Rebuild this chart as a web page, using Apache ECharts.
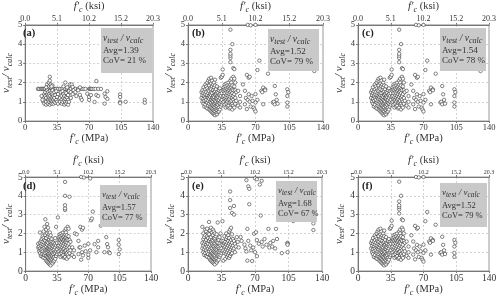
<!DOCTYPE html>
<html>
<head>
<meta charset="utf-8">
<script src="https://cdn.jsdelivr.net/npm/echarts@6/dist/echarts.min.js"></script>
<style>
  html, body { margin: 0; padding: 0; background: #fff; }
  #chart { width: 500px; height: 298px; }
</style>
</head>
<body>
<div id="chart"></div>
<script>
// tick labels
const mpaTicks = [0, 35, 70, 105, 140]
const ksiTicks = ['0.0', '5.1', '10.2', '15.2', '20.3']
const panelLabels = ['(a)', '(b)', '(c)', '(d)', '(e)', '(f)']
const avgValues = ['1.39', '1.52', '1.54', '1.57', '1.68', '1.52']
const covValues = ['21', '79', '78', '77', '67', '79']

// (a) f'c [MPa], v_test/v_calc
const ptsA = [
  [14,1.67],[15,1.67],[17,1.67],[18,1.67],[19,1.67],[20,1.67],[21,1.67],[22,1.67],[24,1.67],[25,1.67],
  [26,1.67],[28,1.67],[29,1.67],[30,1.67],[31,1.67],[33,1.67],[34,1.67],[36,1.67],[38,1.67],[40,1.67],
  [42,1.67],[44,1.67],[46,1.67],[48,1.67],[50,1.67],[53,1.67],[55,1.67],[58,1.67],[60,1.67],[62,1.67],
  [64,1.67],[66,1.67],[70,1.67],[71,1.67],[72,1.67],[73,1.67],[75,1.67],[77,1.67],[80,1.67],[83,1.67],
  [20,1.0],[20,1.2],[21,1.4],[21,0.9],[22,1.1],[22,1.3],[22,1.5],[23,0.85],[23,1.0],[23,1.2],
  [24,1.4],[24,1.6],[24,1.9],[25,0.9],[25,1.1],[25,1.3],[25,1.5],[26,1.0],[26,1.2],[26,1.4],
  [26,1.8],[26,2.0],[27,0.85],[27,1.1],[27,1.3],[27,1.55],[27,2.1],[27,2.3],[28,0.95],[28,1.15],
  [28,1.45],[28,1.75],[28,1.9],[29,0.9],[29,1.05],[29,1.25],[29,1.5],[30,1.0],[30,1.2],[30,1.4],
  [30,1.6],[30,1.85],[31,0.9],[31,1.1],[31,1.3],[32,1.0],[32,1.2],[32,1.5],[33,0.95],[33,1.35],
  [34,1.1],[34,1.55],[35,1.0],[35,1.25],[36,1.4],[36,0.9],[18,1.3],[19,1.1],[23,1.75],[29,1.8],
  [38,1.0],[38,1.2],[39,1.5],[40,0.9],[40,1.1],[40,1.3],[41,1.0],[41,1.55],[42,1.2],[42,1.4],
  [42,1.8],[43,0.85],[43,1.05],[43,1.3],[44,1.0],[44,1.15],[44,1.5],[44,2.0],[45,0.9],[45,1.25],
  [45,1.45],[46,1.0],[46,1.2],[46,1.75],[47,0.85],[47,1.1],[47,1.35],[48,1.0],[48,1.55],[49,1.9],
  [50,1.2],[50,1.5],[51,1.9],[52,1.4],[52,1.77],[53,1.6],[55,1.5],[56,1.3],[58,1.6],[60,1.75],
  [60,1.36],[61,1.2],[62,1.1],[68,1.42],[70,1.25],[70,1.1],[72,1.35],[76,0.99],[78,2.08],[78,1.35],
  [80,1.3],[87,1.42],[88,1.25],[87,0.9],[90,1.55],[90,1.15],[104,1.39],[104,1.25],[104,1.0],[104,0.93],
  [110,1.0],[131,1.1],[131,0.95]
]

// (b) also shown in (c) and (f)
const ptsB = [
  [14,1.5],[14,1.2],[15,1.0],[15,1.35],[15,1.6],[16,0.9],[16,1.15],[16,1.45],[16,1.75],[17,0.75],
  [17,1.05],[17,1.3],[17,1.55],[18,0.85],[18,1.2],[18,1.4],[18,1.65],[18,1.9],[19,0.7],[19,1.0],
  [19,1.1],[19,1.5],[19,1.8],[20,0.65],[20,0.95],[20,1.25],[20,1.35],[20,1.7],[20,2.0],[21,0.8],
  [21,1.05],[21,1.2],[21,1.45],[21,1.6],[21,2.1],[22,0.6],[22,0.9],[22,1.15],[22,1.3],[22,1.55],
  [22,1.85],[22,2.2],[23,0.55],[23,0.75],[23,1.0],[23,1.25],[23,1.4],[23,1.7],[23,2.05],[24,0.5],
  [24,0.7],[24,0.95],[24,1.1],[24,1.35],[24,1.5],[24,1.65],[24,1.95],[24,2.25],[25,0.45],[25,0.65],
  [25,0.85],[25,1.05],[25,1.2],[25,1.45],[25,1.8],[25,2.1],[26,0.4],[26,0.6],[26,0.8],[26,1.0],
  [26,1.15],[26,1.3],[26,1.6],[26,1.9],[27,0.35],[27,0.55],[27,0.75],[27,0.9],[27,1.1],[27,1.25],
  [27,1.5],[27,1.75],[27,2.0],[28,0.3],[28,0.5],[28,0.7],[28,0.95],[28,1.05],[28,1.35],[28,1.55],
  [28,1.85],[28,2.15],[29,0.4],[29,0.6],[29,0.8],[29,1.0],[29,1.2],[29,1.4],[29,1.65],[30,0.35],
  [30,0.55],[30,0.75],[30,0.9],[30,1.15],[30,1.3],[30,1.5],[30,1.8],[31,0.45],[31,0.65],[31,0.85],
  [31,1.05],[31,1.25],[31,1.45],[32,0.5],[32,0.7],[32,0.95],[32,1.1],[32,1.35],[32,1.6],[33,0.6],
  [33,0.9],[33,1.2],[33,1.4],[33,1.7],[34,0.75],[34,1.0],[34,1.3],[34,1.55],[34,2.25],[35,0.85],
  [35,1.1],[35,1.45],[35,2.3],[36,0.95],[36,1.25],[36,1.6],[36,2.4],[36,2.68],
  [37,1.0],[37,1.3],[37,1.55],[37,1.75],[38,0.85],[38,1.15],[38,1.45],[38,1.65],[38,1.9],[39,0.7],
  [39,1.05],[39,1.25],[39,1.6],[39,1.8],[40,0.9],[40,1.1],[40,1.35],[40,1.5],[40,1.7],[40,1.95],
  [41,0.75],[41,1.0],[41,1.2],[41,1.45],[41,1.65],[41,1.85],[42,0.8],[42,1.1],[42,1.3],[42,1.55],
  [42,1.75],[42,2.0],[43,0.65],[43,0.95],[43,1.15],[43,1.4],[43,1.6],[43,1.8],[44,0.7],[44,1.0],
  [44,1.25],[44,1.5],[44,1.7],[44,1.9],[44,2.1],[44,3.06],[44,3.28],[44,3.4],[44,3.5],[44,3.7],
  [44,4.75],[45,0.85],[45,1.05],[45,1.35],[45,1.55],[45,1.75],[45,2.0],[45,2.2],[46,0.6],[46,0.9],
  [46,1.2],[46,1.45],[46,1.65],[46,1.85],[46,4.0],[47,0.8],[47,1.1],[47,1.3],[47,1.6],[47,2.3],
  [47,2.75],[48,0.7],[48,1.0],[48,1.4],[48,1.8],[48,2.2],[48,2.7],[49,0.9],[49,1.2],[49,1.6],
  [49,2.0],[50,1.05],[50,1.5],[52,1.57],[52,0.8],[54,1.3],[54,1.0],[54,0.7],
  [57,1.9],[59,0.87],[59,1.57],[60,1.2],[61,2.4],[61,0.62],[62,1.1],[62,5.0],[63,1.39],[63,2.25],
  [64,2.3],[64,1.0],[65,4.98],[65,0.75],[66,1.3],[67,1.05],[68,0.7],[69,0.6],[70,0.96],[70,5.0],
  [70,0.5],[70,1.4],[72,2.65],[72,1.1],[74,3.14],[76,1.57],[77,1.5],[78,1.74],[78,0.87],[80,1.65],
  [80,1.6],[83,2.46],[88,0.96],[89,1.0],[90,0.87],[90,1.82],[91,1.39],[92,1.1],[93,0.9],[103,1.65],
  [103,1.3],[103,0.96],[103,0.75],[104,1.5],[131,2.6],[131,3.0]
]
const ptsC = ptsB
const ptsF = ptsB

// (d)
const ptsD = [
  [14,1.45],[14,1.25],[15,1.05],[15,1.3],[16,0.95],[16,1.2],[16,1.5],[16,2.05],[17,0.8],[17,1.1],
  [17,1.35],[17,1.6],[18,0.9],[18,1.15],[18,1.45],[18,1.7],[19,0.75],[19,1.05],[19,1.3],[19,1.55],
  [19,1.85],[20,0.7],[20,0.9],[20,1.2],[20,1.4],[20,1.75],[20,2.1],[21,0.85],[21,1.0],[21,1.25],
  [21,1.5],[21,1.65],[21,2.35],[22,0.65],[22,0.95],[22,1.1],[22,1.35],[22,1.6],[22,1.9],[22,2.75],
  [23,0.55],[23,0.8],[23,1.05],[23,1.3],[23,1.45],[23,1.75],[23,2.2],[24,0.5],[24,0.75],[24,1.0],
  [24,1.15],[24,1.4],[24,1.55],[24,2.0],[24,2.5],[25,0.45],[25,0.7],[25,0.9],[25,1.1],[25,1.25],
  [25,1.5],[25,1.85],[25,2.3],[26,0.4],[26,0.65],[26,0.85],[26,1.05],[26,1.2],[26,1.35],[26,1.65],
  [26,1.95],[27,0.35],[27,0.6],[27,0.8],[27,0.95],[27,1.15],[27,1.3],[27,1.55],[27,1.8],[27,2.05],
  [28,0.3],[28,0.55],[28,0.75],[28,1.0],[28,1.1],[28,1.4],[28,1.6],[28,1.9],[29,0.45],[29,0.65],
  [29,0.85],[29,1.05],[29,1.25],[29,1.45],[29,1.7],[30,0.4],[30,0.6],[30,0.8],[30,0.95],[30,1.2],
  [30,1.35],[30,1.55],[31,0.5],[31,0.7],[31,0.9],[31,1.1],[31,1.3],[31,1.5],[32,0.55],[32,0.75],
  [32,1.0],[32,1.15],[32,1.4],[33,0.65],[33,0.95],[33,1.25],[33,1.45],[33,1.75],[34,0.8],[34,1.05],
  [34,1.35],[34,2.35],[35,0.9],[35,1.15],[35,1.5],[36,1.0],[36,1.3],[36,2.85],
  [37,1.05],[37,1.35],[37,1.6],[37,1.8],[38,0.9],[38,1.2],[38,1.5],[38,1.7],[38,1.95],[39,0.75],
  [39,1.1],[39,1.3],[39,1.65],[39,1.85],[40,0.95],[40,1.15],[40,1.4],[40,1.55],[40,1.75],[40,2.0],
  [41,0.8],[41,1.05],[41,1.25],[41,1.5],[41,1.7],[41,1.9],[42,0.85],[42,1.15],[42,1.35],[42,1.6],
  [42,1.8],[42,2.05],[43,0.7],[43,1.0],[43,1.2],[43,1.45],[43,1.65],[43,1.85],[44,0.75],[44,1.05],
  [44,1.3],[44,1.55],[44,1.75],[44,1.95],[44,2.15],[44,3.25],[44,3.33],[44,3.5],[44,4.0],[44,4.74],
  [45,0.9],[45,1.1],[45,1.4],[45,1.6],[45,1.8],[45,2.05],[45,2.25],[46,0.65],[46,0.95],[46,1.25],
  [46,1.5],[46,1.7],[46,1.9],[47,0.85],[47,1.15],[47,1.35],[47,1.65],[47,2.35],[48,0.75],[48,1.05],
  [48,1.45],[48,1.85],[48,2.25],[49,0.95],[49,1.25],[49,3.95],[49,1.65],[50,1.1],[50,1.55],[52,1.26],
  [52,0.85],[54,1.1],[54,0.75],[55,2.0],
  [57,1.95],[59,0.9],[59,1.6],[60,1.25],[61,2.35],[61,1.26],[62,5.0],[62,0.6],[63,1.0],[63,2.2],
  [64,0.83],[64,2.3],[65,4.97],[66,1.35],[67,1.05],[70,0.7],[70,0.87],[70,1.45],[72,1.1],[72,4.92],
  [73,2.7],[74,2.79],[75,3.16],[77,1.43],[79,1.0],[81,1.26],[81,1.6],[84,2.41],[88,1.0],[90,1.8],
  [91,1.43],[92,1.26],[93,1.0],[94,0.95],[104,1.65],[104,1.4],[104,0.9],[105,1.15],[132,2.53]
]

// (e)
const ptsE = [
  [15,2.35],[15,1.5],[15,1.2],[16,1.0],[16,1.35],[16,1.7],[16,2.0],[17,0.85],[17,1.15],[17,1.45],
  [17,1.8],[18,0.95],[18,1.25],[18,1.55],[18,1.9],[18,2.2],[19,0.8],[19,1.1],[19,1.4],[19,1.65],
  [19,2.1],[20,0.75],[20,1.0],[20,1.3],[20,1.5],[20,1.85],[20,2.25],[21,0.9],[21,1.2],[21,1.45],
  [21,1.75],[21,2.0],[22,0.7],[22,1.05],[22,1.3],[22,1.6],[22,1.95],[22,2.61],[23,0.6],[23,0.85],
  [23,1.15],[23,1.4],[23,1.7],[23,2.15],[24,0.55],[24,0.8],[24,1.05],[24,1.25],[24,1.55],[24,1.8],
  [24,2.3],[25,0.5],[25,0.75],[25,0.95],[25,1.2],[25,1.45],[25,1.65],[25,2.05],[26,0.45],[26,0.7],
  [26,0.9],[26,1.1],[26,1.35],[26,1.6],[26,1.9],[26,2.2],[27,0.4],[27,0.65],[27,0.85],[27,1.05],
  [27,1.3],[27,1.5],[27,1.75],[27,2.1],[28,0.35],[28,0.6],[28,0.8],[28,1.0],[28,1.2],[28,1.45],
  [28,1.7],[28,2.0],[29,0.5],[29,0.7],[29,0.95],[29,1.15],[29,1.35],[29,1.6],[29,1.85],[30,0.45],
  [30,0.65],[30,0.9],[30,1.1],[30,1.3],[30,1.55],[30,1.95],[31,0.55],[31,0.8],[31,1.0],[31,1.25],
  [31,1.5],[31,2.58],[32,0.6],[32,0.85],[32,1.05],[32,1.3],[32,1.65],[33,0.75],[33,1.0],[33,1.2],
  [33,1.45],[33,1.8],[34,0.85],[34,1.1],[34,1.35],[34,2.0],[35,0.95],[35,1.2],[35,1.6],[36,1.05],
  [36,1.4],[36,2.65],[37,0.55],[37,1.1],[37,1.35],[37,1.6],[38,0.95],[38,1.25],[38,1.5],[38,1.85],
  [39,0.65],[39,1.05],[39,1.3],[39,1.55],[40,0.9],[40,1.15],[40,1.4],[40,1.7],[40,2.0],[41,0.75],
  [41,1.0],[41,1.25],[41,1.5],[41,1.8],[42,0.85],[42,1.1],[42,1.35],[42,1.6],[42,1.9],[43,0.7],
  [43,0.95],[43,1.2],[43,1.45],[43,1.75],[43,2.1],[44,0.8],[44,1.05],[44,1.3],[44,1.55],[44,2.2],
  [44,3.35],[44,3.77],[44,4.23],[45,0.9],[45,1.15],[45,1.4],[45,1.65],[45,2.3],[46,0.95],[46,1.25],
  [46,1.5],[46,1.95],[46,3.09],[47,1.1],[47,1.35],[47,1.7],[48,3.0],[48,3.46],[48,1.2],[48,1.6],
  [49,1.0],[49,1.45],[50,1.3],[51,1.8],[52,1.55],[53,1.25],[55,1.81],[56,1.6],
  [59,1.4],[60,1.2],[61,4.83],[61,1.04],[62,2.24],[62,0.55],[63,1.6],[63,4.5],[64,4.37],[64,3.55],
  [65,1.35],[66,1.1],[67,0.53],[68,1.25],[69,1.98],[70,4.93],[70,1.0],[71,2.06],[72,4.88],[72,0.79],
  [72,1.64],[74,1.45],[75,4.6],[76,2.95],[77,4.8],[77,1.55],[78,1.3],[80,1.7],[82,1.4],[84,2.24],
  [85,1.25],[86,1.5],[88,1.3],[89,1.6],[91,1.2],[92,2.24],[93,1.7],[98,0.95],[104,1.5],[104,1.45],
  [104,1.4],[104,1.0],[110,2.66],[131,2.53],[131,2.18]
]

const font = 'Liberation Serif'
const panels = [
  { data: ptsA, left: 19, top: 24, width: 134, height: 97, box: [101, 28, 51, 45], row: 0 },
  { data: ptsB, left: 188, top: 24, width: 135, height: 97, box: [268, 29, 51, 42], row: 0 },
  { data: ptsC, left: 358, top: 24, width: 131, height: 97, box: [440, 28, 46, 43], row: 0 },
  { data: ptsD, left: 19, top: 177, width: 132, height: 98, box: [100, 185, 47, 42], row: 1 },
  { data: ptsE, left: 188, top: 177, width: 134, height: 98, box: [276, 181, 41, 41], row: 1 },
  { data: ptsF, left: 358, top: 177, width: 131, height: 98, box: [440, 183, 47, 44], row: 1 },
]

const nameRich = {
  f: { fontFamily: font, fontStyle: 'italic', fontSize: 11, lineHeight: 15 },
  s: { fontFamily: font, fontStyle: 'italic', fontSize: 8, lineHeight: 15, verticalAlign: 'bottom' },
  n: { fontFamily: font, fontSize: 10.5, lineHeight: 15 },
}

const grid = []
const xAxis = []
const yAxis = []
const series = []
const graphic = []

panels.forEach((p, i) => {
  const row2 = p.row === 1
  const tickSize = row2 ? 9.5 : 8.5
  grid.push({
    left: p.left, top: p.top, width: p.width, height: p.height,
    show: true, borderColor: '#9a9a9a', borderWidth: 1,
  })
  xAxis.push({
    gridIndex: i, type: 'value', min: 0, max: 140, interval: 35, position: 'bottom',
    name: '{f|f′}{s|c}{n| (MPa)}', nameLocation: 'middle', nameGap: row2 ? 11 : 8,
    nameTextStyle: { rich: nameRich, color: '#333' },
    axisLine: { lineStyle: { color: '#777' } },
    axisTick: { length: 2, lineStyle: { color: '#777' } },
    axisLabel: { fontFamily: font, fontSize: tickSize, color: '#333', margin: 2 },
    splitLine: { lineStyle: { color: '#c8c8c8', type: [2, 2], width: 0.8 } },
  })
  xAxis.push({
    gridIndex: i, type: 'value', min: 0, max: 140, interval: 35, position: 'top',
    name: '{f|f′}{s|c}{n| (ksi)}', nameLocation: 'middle', nameGap: row2 ? 8 : 10,
    nameTextStyle: { rich: nameRich, color: '#333' },
    axisLine: { lineStyle: { color: '#777' } },
    axisTick: { length: 2, lineStyle: { color: '#777' } },
    axisLabel: {
      fontFamily: font, fontSize: row2 ? 6 : 8, color: '#333', margin: 2,
      formatter: v => ksiTicks[mpaTicks.indexOf(v)],
    },
    splitLine: { show: false },
  })
  yAxis.push({
    gridIndex: i, type: 'value', min: 0, max: 5, interval: 1,
    name: '{f|v}{s|test}{f|/ v}{s|calc}', nameLocation: 'middle', nameRotate: 90, nameGap: 9,
    nameTextStyle: { rich: nameRich, color: '#333' },
    axisLine: { lineStyle: { color: '#777' } },
    axisTick: { length: 2, lineStyle: { color: '#777' } },
    axisLabel: { fontFamily: font, fontSize: tickSize, color: '#333', margin: 3 },
    splitLine: { lineStyle: { color: '#c8c8c8', type: [2, 2], width: 0.8 } },
  })
  series.push({
    type: 'scatter', xAxisIndex: 2 * i, yAxisIndex: i, data: p.data,
    symbol: 'circle', symbolSize: 3.4,
    itemStyle: { color: '#fff', borderColor: '#333', borderWidth: 0.6, opacity: 1 },
    silent: true,
  })

  const [bx, by, bw, bh] = p.box
  const ls = row2 ? 8.5 : 9
  graphic.push({
    type: 'rect', shape: { x: bx, y: by, width: bw, height: bh },
    style: { fill: '#c9c9c9' }, z: 10,
  })
  graphic.push({
    type: 'text', x: bx + 2, y: by + 10, z: 11,
    style: {
      text: '{v|v}{s|test}{v| / v}{s|calc}',
      verticalAlign: 'middle',
      fill: '#333',
      rich: {
        v: { fontFamily: font, fontStyle: 'italic', fontSize: ls + 0.5, lineHeight: 13 },
        s: { fontFamily: font, fontStyle: 'italic', fontSize: ls - 1, lineHeight: 13, verticalAlign: 'bottom' },
      },
    },
  })
  graphic.push({
    type: 'text', x: bx + 2, y: by + 23, z: 11,
    style: { text: 'Avg=' + avgValues[i], font: ls + 'px "' + font + '"', fill: '#333', verticalAlign: 'middle' },
  })
  graphic.push({
    type: 'text', x: bx + 2, y: by + 33, z: 11,
    style: { text: 'CoV= ' + covValues[i] + ' %', font: ls + 'px "' + font + '"', fill: '#333', verticalAlign: 'middle' },
  })
  graphic.push({
    type: 'text', x: p.left + 4, y: p.top + 9, z: 11,
    style: { text: panelLabels[i], font: 'bold 10.5px "' + font + '"', fill: '#222', verticalAlign: 'middle' },
  })
})

const chart = echarts.init(document.getElementById('chart'))
chart.setOption({
  animation: false,
  backgroundColor: '#fff',
  grid,
  xAxis,
  yAxis,
  series,
  graphic,
})
</script>
</body>
</html>
